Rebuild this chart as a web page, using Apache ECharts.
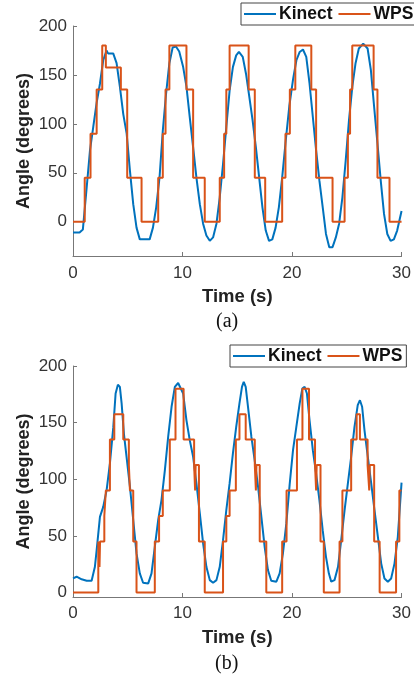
<!DOCTYPE html>
<html>
<head>
<meta charset="utf-8">
<script src="https://cdn.jsdelivr.net/npm/echarts@6/dist/echarts.min.js"></script>
<style>
  html, body { margin: 0; padding: 0; background: #fff; }
  #chart { width: 414px; height: 679px; }
</style>
</head>
<body>
<div id="chart"></div>
<script>
// x-axis ticks and y-axis tick labels
const timeTicks = [0, 10, 20, 30];
const angleTicks = [0, 50, 100, 150, 200];

// (a) Kinect angle [time s, degrees]
const kinectA = [
    [0, -11], [0.6, -11], [0.9, -8], [1.25, 35], [1.55, 73], [1.85, 97], [2.15, 121], [2.46, 141],
    [2.76, 165], [3.06, 175], [3.2, 172], [3.37, 173], [3.67, 172], [3.98, 162], [4.28, 138], [4.59, 110],
    [4.9, 90], [5.2, 52], [5.5, 18], [5.8, -6], [6.1, -18], [7.0, -18], [7.3, -6], [7.6, 15],
    [7.9, 45], [8.2, 93], [8.5, 131], [8.8, 162], [9.1, 178], [9.4, 179], [9.7, 174], [10.06, 158],
    [10.36, 138], [10.66, 107], [10.97, 76], [11.27, 45], [11.58, 18], [11.88, -2], [12.18, -14], [12.49, -19.5],
    [12.79, -16], [13.1, -2], [13.4, 25], [13.7, 59], [14.0, 97], [14.3, 134], [14.6, 158], [14.9, 170],
    [15.15, 173.5], [15.5, 168.5], [15.8, 151], [16.1, 127.5], [16.4, 103.5], [16.7, 76], [17.0, 45], [17.3, 14.5],
    [17.6, -9], [17.9, -19.5], [18.2, -18], [18.5, -6], [18.8, 15], [19.1, 45], [19.4, 80], [19.75, 118],
    [20.1, 146], [20.4, 165], [20.7, 173.5], [21.0, 176], [21.3, 168.5], [21.6, 141], [21.9, 107], [22.2, 73],
    [22.5, 42], [22.8, 15], [23.1, -12.5], [23.4, -26], [23.7, -26], [24.0, -16], [24.3, -2], [24.6, 25],
    [24.9, 62.5], [25.2, 103.5], [25.5, 137.5], [25.8, 162], [26.1, 177], [26.5, 182], [26.9, 177], [27.2, 155],
    [27.5, 117], [27.8, 80], [28.1, 42], [28.4, 8], [28.7, -12.5], [29.0, -19.5], [29.3, -18], [29.6, -9],
    [30.0, 11]
];

// (a) WPS angle, each value held until the next time
const wpsA = [
    [0, 0], [1.07, 45], [1.6, 90], [2.16, 135], [2.67, 180], [3.0, 157.5], [4.37, 135], [4.95, 45],
    [6.26, 0], [7.78, 45], [8.2, 90], [8.45, 135], [8.8, 180], [10.36, 135], [10.97, 45], [12.03, 0],
    [13.4, 45], [13.8, 90], [14.0, 135], [14.3, 180], [16.04, 135], [16.6, 45], [17.55, 0], [19.1, 45],
    [19.4, 90], [19.8, 135], [20.3, 180], [21.76, 135], [22.2, 45], [23.7, 0], [24.8, 45], [25.1, 90],
    [25.3, 135], [25.5, 180], [27.45, 135], [27.8, 45], [28.9, 0], [30, 0]
];

// (b) Kinect angle [time s, degrees]
const kinectB = [
    [0, 12.4], [0.33, 13.9], [0.79, 11.6], [1.25, 10.4], [1.7, 10.4], [2.0, 22.7], [2.16, 37.4], [2.46, 66.8],
    [2.76, 75.6], [3.07, 90.4], [3.37, 114], [3.68, 146], [3.89, 175.7], [4.1, 183.5], [4.28, 181.6], [4.44, 167],
    [4.65, 140], [4.89, 119.8], [5.2, 93.3], [5.5, 64], [5.8, 34.5], [6.1, 16.9], [6.4, 8.6], [6.87, 8],
    [7.17, 16.9], [7.47, 40.3], [7.78, 64], [8.08, 81.6], [8.39, 108], [8.69, 137.4], [9.0, 164], [9.3, 181.6],
    [9.6, 185], [9.75, 185], [10.06, 175.7], [10.36, 152], [10.66, 134.5], [10.97, 119.8], [11.27, 96.3], [11.58, 69.8],
    [11.88, 43.3], [12.18, 22.7], [12.49, 10.9], [12.79, 8.6], [13.1, 10.9], [13.4, 22.7], [13.7, 46.2], [14.0, 72.7],
    [14.3, 96.3], [14.6, 122.7], [14.9, 146], [15.2, 167], [15.43, 181.6], [15.59, 186], [15.77, 181.6], [15.98, 164],
    [16.29, 137.4], [16.59, 116.6], [16.9, 93.3], [17.2, 66.8], [17.5, 40.3], [17.8, 19.8], [18.1, 10.4], [18.57, 9.5],
    [18.87, 16.9], [19.17, 34.5], [19.48, 61], [19.78, 95], [20.09, 125.7], [20.39, 146], [20.7, 167], [20.94, 180],
    [21.15, 181.6], [21.36, 175.7], [21.6, 152], [21.9, 125.7], [22.2, 105], [22.5, 81.6], [22.8, 55], [23.1, 31.5],
    [23.36, 16.9], [23.58, 9.5], [23.88, 10.9], [24.2, 22.7], [24.49, 46.2], [24.8, 72.7], [25.1, 96.3], [25.4, 119.8],
    [25.7, 146], [26.0, 165.4], [26.2, 169.8], [26.4, 164], [26.62, 143], [26.92, 119.8], [27.23, 96.3], [27.53, 72.7],
    [27.84, 49.2], [28.14, 25.7], [28.44, 12.4], [28.75, 9.5], [29.05, 12.4], [29.36, 25.7], [29.66, 49.2], [30.0, 97]
];

// (b) WPS angle, each value held until the next time
const wpsB = [
    [0, 0], [2.31, 45], [2.42, 22.5], [2.47, 45], [2.86, 67.5], [3.0, 90], [3.37, 135], [3.77, 157.5],
    [4.59, 135], [5.1, 112.5], [5.2, 90], [5.5, 45], [5.8, 0], [7.47, 45], [7.86, 67.5], [8.2, 90],
    [8.84, 135], [9.36, 180], [10.1, 135], [11.06, 112.5], [11.15, 90], [11.2, 112.5], [11.5, 45], [12.03, 0],
    [13.7, 45], [14.0, 67.5], [14.3, 90], [14.87, 135], [15.2, 157.5], [15.77, 135], [16.6, 112.5], [16.7, 90],
    [16.75, 112.5], [17.05, 45], [17.65, 0], [19.1, 45], [19.5, 90], [20.45, 135], [20.95, 180], [21.55, 135],
    [22.1, 112.5], [22.2, 90], [22.25, 112.5], [22.6, 45], [22.9, 0], [24.34, 45], [24.6, 90], [25.4, 135],
    [25.9, 157.5], [26.2, 135], [26.9, 112.5], [27.05, 90], [27.1, 112.5], [27.5, 45], [28.0, 0], [29.5, 45],
    [29.8, 90], [30, 90]
];

const KINECT_COLOR = '#0072BD';
const WPS_COLOR = '#D95319';
const FONT = '"Liberation Sans", Arial, sans-serif';
const SERIF = '"Liberation Serif", "Times New Roman", serif';

function makeXAxis(gridIndex, labelMargin) {
    return {
        type: 'value',
        gridIndex: gridIndex,
        min: 0,
        max: 30,
        interval: 10,
        name: 'Time (s)',
        nameLocation: 'middle',
        nameGap: 31,
        nameMoveOverlap: false,
        nameTextStyle: { fontFamily: FONT, fontSize: 18.5, fontWeight: 'bold', color: '#222' },
        axisLine: { onZero: false, lineStyle: { color: '#777', width: 1 } },
        axisTick: { inside: true, length: 4, lineStyle: { color: '#777' }, customValues: timeTicks },
        axisLabel: { fontFamily: FONT, fontSize: 17, color: '#333', margin: labelMargin, customValues: timeTicks },
        splitLine: { show: false }
    };
}

function makeYAxis(gridIndex, min) {
    return {
        type: 'value',
        gridIndex: gridIndex,
        min: min,
        max: 200,
        name: 'Angle (degrees)',
        nameLocation: 'middle',
        nameGap: 40,
        nameMoveOverlap: false,
        nameTextStyle: { fontFamily: FONT, fontSize: 18, fontWeight: 'bold', color: '#222' },
        axisLine: { show: true, onZero: false, lineStyle: { color: '#777', width: 1 } },
        axisTick: { show: true, inside: true, length: 4, lineStyle: { color: '#777' }, customValues: angleTicks },
        axisLabel: { fontFamily: FONT, fontSize: 17, color: '#333', margin: 6, customValues: angleTicks },
        splitLine: { show: false }
    };
}

function makeSeries(name, data, color, idx, step) {
    return {
        name: name,
        type: 'line',
        xAxisIndex: idx,
        yAxisIndex: idx,
        data: data,
        step: step,
        symbol: 'none',
        lineStyle: { color: color, width: 2 },
        itemStyle: { color: color },
        animation: false
    };
}

function makeLegend(left, top) {
    return {
        left: left,
        top: top,
        width: 200,
        data: ['Kinect', 'WPS'],
        icon: 'path://M0,0 L32,0 L32,2 L0,2 Z',
        itemWidth: 32,
        itemHeight: 2,
        itemGap: 6,
        padding: [2, 4, 2, 3],
        borderColor: '#444',
        borderWidth: 1,
        textStyle: { fontFamily: FONT, fontSize: 17.5, fontWeight: 'bold', color: '#111', padding: [0, 0, 0, -2] }
    };
}

let chart = echarts.init(document.getElementById('chart'));

let option = {
    backgroundColor: '#fff',
    animation: false,
    title: [
        { text: '(a)', left: 216, top: 312, padding: 0, textStyle: { fontFamily: SERIF, fontSize: 20, fontWeight: 'normal', color: '#111' } },
        { text: '(b)', left: 215, top: 654, padding: 0, textStyle: { fontFamily: SERIF, fontSize: 20, fontWeight: 'normal', color: '#111' } }
    ],
    legend: [makeLegend(241, 3), makeLegend(230, 345)],
    grid: [
        { left: 73, right: 12, top: 26, height: 230 },
        { left: 73, right: 12, top: 366, height: 231 }
    ],
    xAxis: [makeXAxis(0, 9), makeXAxis(1, 8)],
    yAxis: [makeYAxis(0, -35), makeYAxis(1, -4)],
    series: [
        makeSeries('Kinect', kinectA, KINECT_COLOR, 0, false),
        makeSeries('WPS', wpsA, WPS_COLOR, 0, 'end'),
        makeSeries('Kinect', kinectB, KINECT_COLOR, 1, false),
        makeSeries('WPS', wpsB, WPS_COLOR, 1, 'end')
    ]
};
chart.setOption(option);

window.addEventListener('resize', function () {
    chart.resize();
});
</script>
</body>
</html>
